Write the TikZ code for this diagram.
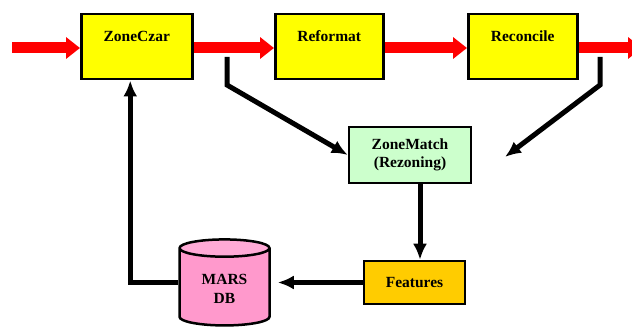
\documentclass[tikz,border=0pt]{standalone}
\usepackage{fontspec}
\setmainfont{Liberation Serif}
\usepackage{tikz}
\usetikzlibrary{arrows.meta,shapes.geometric}
\definecolor{BoxYellow}{HTML}{FFFF00}
\definecolor{BoxGreen}{HTML}{CCFFCC}
\definecolor{BoxAmber}{HTML}{FFCC00}
\definecolor{DbBody}{HTML}{FF99CC}
\definecolor{DbTop}{HTML}{FFAAD6}
\definecolor{FlowRed}{HTML}{FF0000}

\tikzset{
  procbox/.style={draw,line width=2.5pt,fill=BoxYellow,minimum width=111pt,
    inner ysep=0pt,text height=27pt,text depth=38pt,anchor=north west},
  stepbox/.style={draw,line width=2.5pt,align=center,inner sep=0pt},
  dbstore/.style={cylinder,shape border rotate=90,draw,line width=2.5pt,
    align=center,minimum width=90pt,minimum height=86pt,aspect=0.33,
    cylinder uses custom fill,cylinder body fill=DbBody,cylinder end fill=DbTop},
  flow/.style={FlowRed,line width=11pt,-{Triangle[length=14pt,width=21pt]}},
  link/.style={black,line width=5pt,line join=miter},
}

\begin{document}
\begin{tikzpicture}[x=1pt,y=-1pt,>={Latex[length=16pt,width=14pt]},
    font=\fontsize{15.5}{18.5}\selectfont\bfseries]
  \useasboundingbox (0,0) rectangle (632,328);
  \coordinate (rail) at (0,48);
  \coordinate (in) at (12,48);
  \coordinate (out) at (642,48);
  \node[procbox] (zc) at (80,13) {ZoneCzar};
  \node[procbox,minimum width=108pt] (rf) at (274,13) {Reformat};
  \node[procbox,minimum width=109pt] (rc) at (467,13) {Reconcile};
  \node[stepbox,fill=BoxGreen,minimum width=122pt,minimum height=56pt]
    (zm) at (410,155) {ZoneMatch\\(Rezoning)};
  \node[stepbox,fill=BoxAmber,minimum width=101pt,minimum height=43pt]
    (ft) at (414.5,282.5) {Features};
  \node[dbstore] (db) at (224.5,289) {MARS\\DB};
  \coordinate (tapA) at (227,57);
  \coordinate (bendA) at (227,85);
  \coordinate (tapB) at (600,57);
  \coordinate (bendB) at (600,85);
  \coordinate (endB) at (505,157);
  \draw[flow] (in) -- (zc.west |- rail);
  \draw[flow] (zc.east |- rail) -- (rf.west |- rail);
  \draw[flow] (rf.east |- rail) -- (rc.west |- rail);
  \draw[flow] (rc.east |- rail) -- (out);
  \draw[link,->] (tapA) -- (bendA) -- (zm.west);
  \draw[link,->] (tapB) -- (bendB) -- (endB);
  \draw[link,->] ([xshift=10pt]zm.south) -- ([xshift=10pt]zm.south |- ft.north);
  \draw[link,->,shorten >=7pt] (ft.west) -- (db.east |- ft.west);
  \draw[link,->] (db.west |- ft.west) -| ([xshift=-6.5pt]zc.south);
\end{tikzpicture}
\end{document}
